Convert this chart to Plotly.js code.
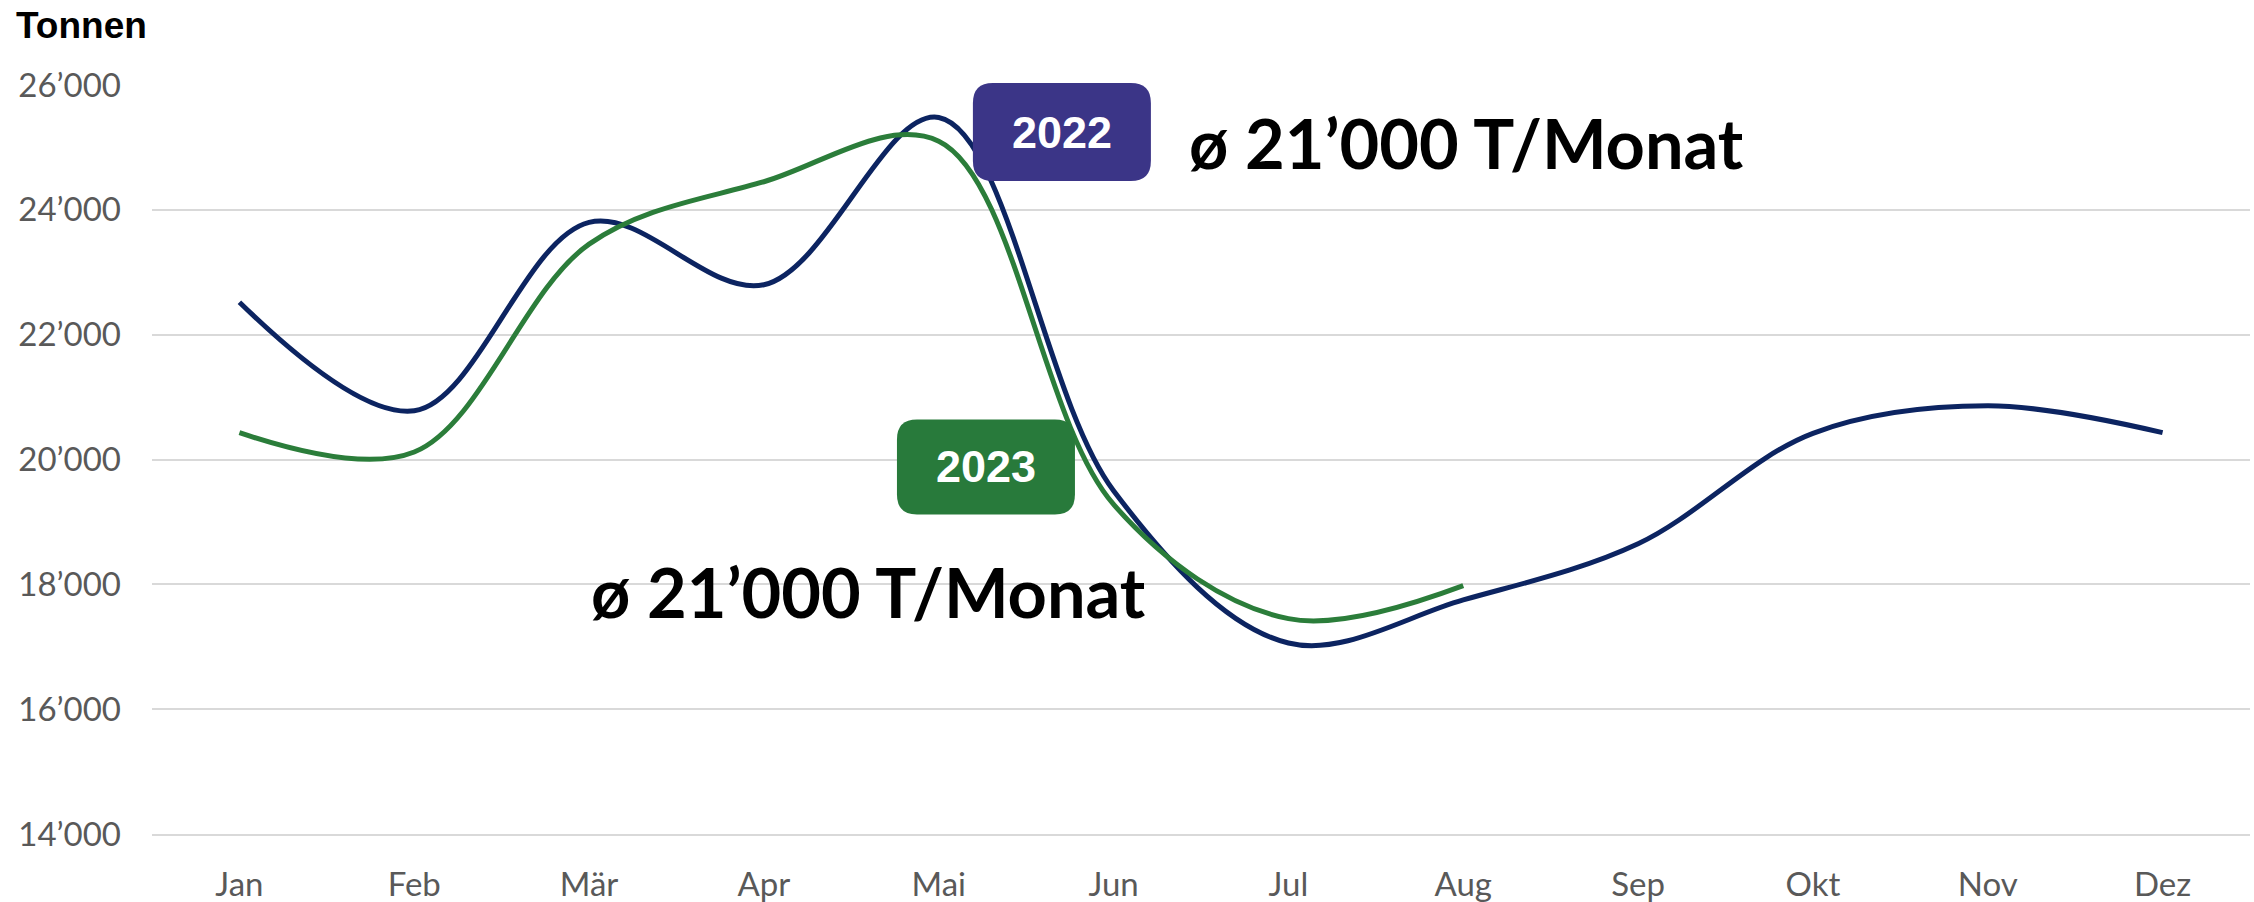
<!DOCTYPE html>
<html>
<head>
<meta charset="utf-8">
<script src="https://cdn.plot.ly/plotly-3.0.1.min.js"></script>
<style>html,body{margin:0;padding:0;background:#fff;}#chart{width:2254px;height:902px;}</style>
</head>
<body>
<div id="chart"></div>
<script>
const months = ['Jan','Feb','Mär','Apr','Mai','Jun','Jul','Aug','Sep','Okt','Nov','Dez'];
const tonnen2022 = [22520, 20780, 23800, 22800, 25480, 19500, 17060, 17750, 18650, 20420, 20860, 20430];
const tonnen2023 = [20430, 20120, 23450, 24450, 25100, 19280, 17450, 17980];
const yTickVals = [14000, 16000, 18000, 20000, 22000, 24000, 26000];
const yTickText = ['14’000', '16’000', '18’000', '20’000', '22’000', '24’000', '26’000'];
const seriesNames = ['2022', '2023'];
const avgLabel = 'ø 21’000 T/Monat';
const unitLabel = 'Tonnen';

function roundRect(w, h, r) {
  const x0 = -w/2, x1 = w/2, y0 = -h/2, y1 = h/2;
  return `M ${x0+r} ${y0} L ${x1-r} ${y0} Q ${x1} ${y0} ${x1} ${y0+r} L ${x1} ${y1-r} Q ${x1} ${y1} ${x1-r} ${y1} L ${x0+r} ${y1} Q ${x0} ${y1} ${x0} ${y1-r} L ${x0} ${y0+r} Q ${x0} ${y0} ${x0+r} ${y0} Z`;
}

const traces = [
  {x: months, y: tonnen2022, name: seriesNames[0], type: 'scatter', mode: 'lines',
   line: {color: '#0C2461', width: 5, shape: 'spline', smoothing: 1}},
  {x: months.slice(0, tonnen2023.length), y: tonnen2023, name: seriesNames[1], type: 'scatter', mode: 'lines',
   line: {color: '#2B7D3A', width: 5, shape: 'spline', smoothing: 1}}
];

const layout = {
  width: 2254, height: 902,
  margin: {l: 152, r: 4, t: 85, b: 68},
  paper_bgcolor: '#ffffff', plot_bgcolor: '#ffffff',
  showlegend: false,
  font: {family: 'Lato, sans-serif', color: '#595959', size: 33},
  xaxis: {
    type: 'category', range: [-0.5, 11.5], showgrid: false, zeroline: false,
    showline: true, linecolor: '#d9d9d9', linewidth: 2,
    ticks: '', ticklabelstandoff: 20,
    tickfont: {family: 'Lato, sans-serif', size: 33, color: '#595959'}
  },
  yaxis: {
    range: [14000, 26000], tickvals: yTickVals, ticktext: yTickText,
    showgrid: true, gridcolor: '#d9d9d9', gridwidth: 2, zeroline: false,
    showline: false, ticks: '', ticklabelstandoff: 30,
    tickfont: {family: 'Lato, sans-serif', size: 33, color: '#595959'}
  },
  shapes: [
    {type: 'path', xref: 'paper', yref: 'paper', xsizemode: 'pixel', ysizemode: 'pixel',
     xanchor: 0.4337, yanchor: 0.9372, path: roundRect(178, 98, 20),
     fillcolor: '#3B3587', line: {width: 0}, layer: 'above'},
    {type: 'path', xref: 'paper', yref: 'paper', xsizemode: 'pixel', ysizemode: 'pixel',
     xanchor: 0.3975, yanchor: 0.49, path: roundRect(178, 95, 20),
     fillcolor: '#287A3B', line: {width: 0}, layer: 'above'}
  ],
  annotations: [
    {xref: 'paper', yref: 'paper', x: -0.0658, y: 1.080, xanchor: 'left', yanchor: 'middle',
     text: '<b>' + unitLabel + '</b>', showarrow: false,
     font: {family: 'Liberation Sans, Arial, sans-serif', size: 37, color: '#000000'}},
    {xref: 'paper', yref: 'paper', x: 0.4337, y: 0.9372, xanchor: 'center', yanchor: 'middle',
     text: '<b>' + seriesNames[0] + '</b>', showarrow: false,
     font: {family: 'Liberation Sans, Arial, sans-serif', size: 45, color: '#ffffff'}},
    {xref: 'paper', yref: 'paper', x: 0.3975, y: 0.49, xanchor: 'center', yanchor: 'middle',
     text: '<b>' + seriesNames[1] + '</b>', showarrow: false,
     font: {family: 'Liberation Sans, Arial, sans-serif', size: 45, color: '#ffffff'}},
    {xref: 'paper', yref: 'paper', x: 0.4933, y: 0.9226, xanchor: 'left', yanchor: 'middle',
     text: '<b>' + avgLabel + '</b>', showarrow: false,
     font: {family: 'Lato, sans-serif', size: 68.5, color: '#000000'}},
    {xref: 'paper', yref: 'paper', x: 0.2083, y: 0.3231, xanchor: 'left', yanchor: 'middle',
     text: '<b>' + avgLabel + '</b>', showarrow: false,
     font: {family: 'Lato, sans-serif', size: 68.5, color: '#000000'}}
  ]
};

Plotly.newPlot('chart', traces, layout, {staticPlot: true, displayModeBar: false});
</script>
</body>
</html>
